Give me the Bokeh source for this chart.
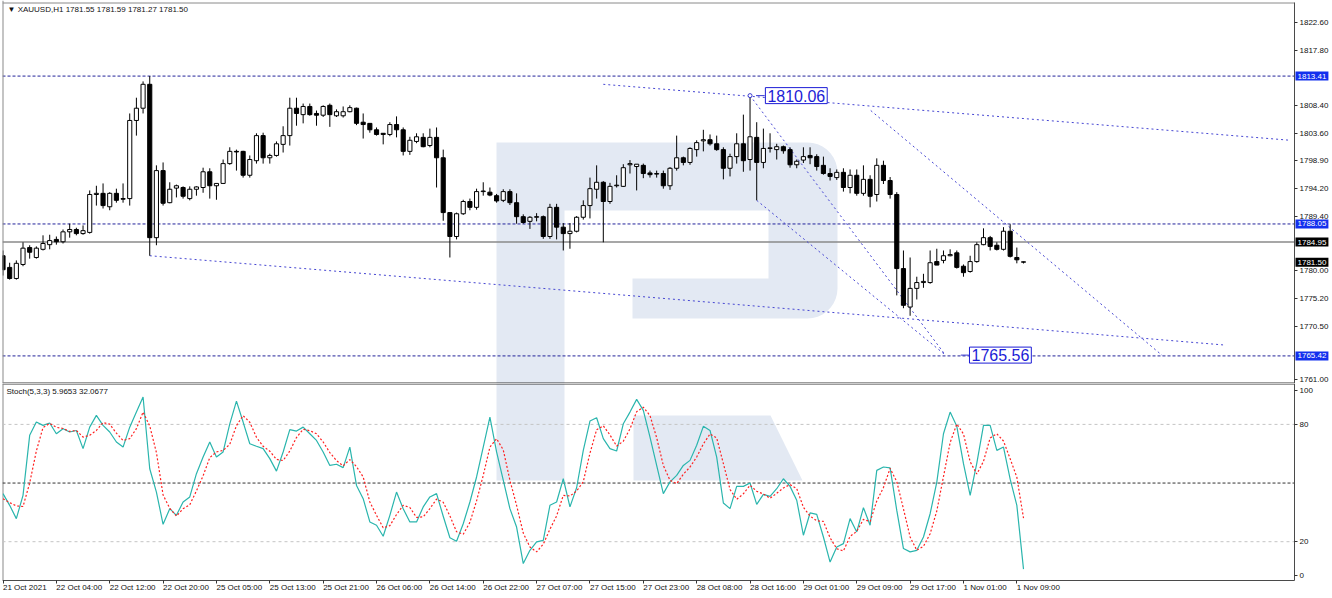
import numpy as np
from bokeh.plotting import figure
from bokeh.models import ColumnDataSource, Range1d, Span, Label, FixedTicker
from bokeh.layouts import column
from bokeh.embed import file_html
from bokeh.resources import INLINE

# ---------------- data ----------------
opens = [1782.6, 1780.6, 1778.7, 1781.1, 1784.0, 1782.3, 1783.7, 1784.5, 1785.4, 1785.0,
         1786.7, 1787.1, 1786.4, 1786.6, 1793.1, 1793.3, 1791.0, 1793.3, 1792.4, 1792.4,
         1805.8, 1807.9, 1812.0, 1785.7, 1797.2, 1791.7, 1794.2, 1794.3, 1792.4, 1794.0,
         1794.3, 1797.0, 1794.6, 1795.0, 1798.4, 1800.5, 1800.5, 1796.4, 1798.9, 1803.2,
         1799.4, 1799.8, 1801.7, 1803.2, 1807.9, 1806.8, 1808.2, 1807.0, 1806.7, 1808.4,
         1806.6, 1806.6, 1807.3, 1807.9, 1805.5, 1805.3, 1804.2, 1803.6, 1803.4, 1805.1,
         1804.2, 1800.5, 1802.2, 1802.9, 1801.5, 1802.9, 1799.4, 1790.0, 1785.9, 1789.8,
         1791.9, 1790.9, 1793.6, 1793.5, 1792.9, 1792.1, 1793.6, 1791.7, 1789.3, 1788.5,
         1789.2, 1789.3, 1785.9, 1790.9, 1787.5, 1786.4, 1786.8, 1789.2, 1791.2, 1794.0,
         1795.2, 1791.9, 1794.6, 1794.5, 1798.2, 1797.9, 1798.1, 1796.8, 1796.6, 1796.7,
         1794.6, 1797.6, 1799.4, 1798.6, 1800.8, 1802.3, 1802.5, 1801.8, 1800.8, 1797.6,
         1799.6, 1801.8, 1799.1, 1802.9, 1798.6, 1801.0, 1800.8, 1801.3, 1800.8, 1798.2,
         1799.0, 1799.8, 1799.6, 1798.1, 1796.7, 1796.0, 1796.9, 1794.3, 1796.4, 1793.3,
         1795.7, 1793.1, 1798.1, 1795.5, 1793.1, 1780.4, 1773.8, 1777.0, 1778.0, 1778.0,
         1781.6, 1781.8, 1782.6, 1783.1, 1780.8, 1779.9, 1781.6, 1784.5, 1785.7, 1784.4,
         1783.7, 1786.8, 1782.3, 1781.55]
highs = [1783.5, 1781.4, 1781.8, 1784.9, 1784.4, 1784.2, 1786.1, 1786.2, 1785.9, 1787.1,
         1788.1, 1787.4, 1787.8, 1793.8, 1794.6, 1795.0, 1793.5, 1794.1, 1795.0, 1807.0,
         1809.7, 1812.5, 1813.41, 1798.1, 1798.6, 1795.2, 1794.8, 1794.5, 1794.5, 1794.5,
         1797.7, 1797.6, 1795.0, 1799.1, 1801.2, 1800.8, 1800.6, 1799.8, 1803.6, 1803.7,
         1800.1, 1802.2, 1804.8, 1809.7, 1809.7, 1808.7, 1808.7, 1807.5, 1808.4, 1808.7,
         1807.7, 1808.2, 1808.4, 1808.0, 1807.0, 1805.3, 1804.6, 1803.6, 1805.5, 1806.5,
         1804.6, 1803.0, 1803.6, 1803.6, 1804.4, 1804.6, 1800.8, 1790.0, 1790.0, 1792.2,
         1792.4, 1794.1, 1795.2, 1794.3, 1793.2, 1794.0, 1794.0, 1793.3, 1789.7, 1789.4,
         1789.9, 1789.5, 1791.5, 1791.5, 1788.2, 1788.2, 1789.4, 1792.1, 1796.0, 1798.1,
         1795.4, 1795.1, 1796.4, 1798.3, 1799.0, 1798.3, 1798.4, 1797.2, 1797.2, 1797.2,
         1797.8, 1803.2, 1799.6, 1801.2, 1802.4, 1804.2, 1803.4, 1803.2, 1801.2, 1800.1,
         1803.6, 1806.8, 1810.06, 1805.5, 1804.4, 1803.6, 1801.8, 1801.5, 1801.2, 1799.1,
         1801.2, 1801.2, 1800.0, 1799.6, 1797.6, 1797.4, 1797.6, 1797.4, 1797.4, 1798.1,
         1796.4, 1799.3, 1798.9, 1796.1, 1793.5, 1783.5, 1782.3, 1779.0, 1779.5, 1783.5,
         1783.8, 1783.5, 1783.7, 1783.5, 1781.1, 1782.6, 1784.9, 1787.3, 1786.0, 1784.9,
         1787.5, 1788.0, 1784.0, 1781.59]
lows = [1779.2, 1778.5, 1778.5, 1780.8, 1782.1, 1782.1, 1783.5, 1783.7, 1784.5, 1784.7,
        1785.7, 1786.1, 1786.2, 1786.4, 1791.2, 1790.7, 1790.4, 1791.7, 1791.7, 1791.2,
        1803.2, 1807.0, 1782.6, 1784.4, 1791.2, 1791.6, 1792.6, 1792.4, 1792.1, 1792.9,
        1793.4, 1792.4, 1792.2, 1794.9, 1798.2, 1797.2, 1796.0, 1796.0, 1798.4, 1798.4,
        1798.4, 1799.6, 1800.3, 1801.5, 1804.9, 1805.3, 1806.6, 1804.9, 1806.4, 1804.7,
        1806.4, 1806.3, 1807.2, 1805.0, 1802.7, 1803.7, 1803.2, 1801.7, 1803.1, 1802.9,
        1799.8, 1799.9, 1801.9, 1801.2, 1801.2, 1794.3, 1788.6, 1782.3, 1785.4, 1789.6,
        1790.4, 1790.5, 1792.9, 1792.8, 1791.7, 1791.8, 1791.3, 1788.1, 1788.1, 1787.2,
        1788.5, 1785.5, 1785.5, 1785.4, 1783.5, 1783.8, 1786.6, 1788.8, 1789.0, 1792.4,
        1784.9, 1791.5, 1794.3, 1794.4, 1796.7, 1793.8, 1795.9, 1796.0, 1796.0, 1794.1,
        1793.9, 1797.2, 1798.1, 1798.2, 1799.6, 1800.5, 1801.5, 1800.6, 1795.7, 1796.2,
        1798.4, 1797.0, 1797.2, 1792.1, 1797.6, 1800.3, 1799.1, 1800.1, 1797.7, 1797.6,
        1798.5, 1798.3, 1797.2, 1796.5, 1795.5, 1795.6, 1793.6, 1793.3, 1792.9, 1792.9,
        1790.9, 1791.9, 1794.9, 1792.4, 1775.8, 1773.6, 1772.3, 1775.1, 1777.1, 1777.8,
        1781.0, 1781.3, 1782.5, 1780.4, 1779.0, 1779.7, 1781.4, 1784.4, 1783.5, 1783.5,
        1783.5, 1782.3, 1781.3, 1781.27]
closes = [1780.2, 1778.7, 1781.3, 1783.9, 1783.2, 1783.9, 1784.7, 1785.2, 1785.0, 1786.7,
          1787.1, 1786.4, 1786.9, 1793.1, 1793.3, 1791.2, 1793.3, 1792.1, 1792.3, 1805.8,
          1807.9, 1812.0, 1785.7, 1797.2, 1791.6, 1794.0, 1794.6, 1792.8, 1794.0, 1794.4,
          1797.0, 1794.6, 1795.0, 1798.4, 1800.5, 1800.4, 1796.4, 1799.1, 1803.2, 1799.4,
          1799.8, 1801.8, 1803.2, 1807.9, 1807.0, 1808.2, 1806.8, 1806.7, 1808.2, 1806.8,
          1807.3, 1807.3, 1808.0, 1805.3, 1805.1, 1804.2, 1803.4, 1803.4, 1805.1, 1804.2,
          1800.5, 1802.4, 1803.0, 1801.3, 1802.9, 1799.4, 1790.0, 1785.9, 1789.8, 1791.9,
          1790.9, 1793.6, 1793.7, 1793.0, 1792.0, 1793.6, 1791.7, 1789.3, 1788.3, 1789.2,
          1789.3, 1785.9, 1790.9, 1787.5, 1786.4, 1786.8, 1789.2, 1791.2, 1794.1, 1795.2,
          1791.9, 1794.5, 1794.7, 1797.7, 1798.4, 1798.3, 1796.7, 1796.5, 1796.7, 1794.6,
          1797.6, 1799.4, 1798.6, 1801.0, 1802.0, 1802.5, 1801.8, 1800.8, 1797.6, 1799.6,
          1801.8, 1798.9, 1803.0, 1798.6, 1801.0, 1801.1, 1801.3, 1800.6, 1798.2, 1798.8,
          1799.6, 1799.4, 1797.9, 1796.7, 1796.2, 1796.9, 1794.3, 1796.4, 1793.3, 1795.7,
          1792.8, 1798.1, 1795.5, 1793.1, 1780.4, 1774.1, 1777.0, 1778.0, 1778.2, 1781.4,
          1781.0, 1782.6, 1782.8, 1780.6, 1779.7, 1781.6, 1784.5, 1785.7, 1784.2, 1783.7,
          1786.8, 1782.5, 1781.9, 1781.50]

stoch_k = [44.6, 38.6, 31.8, 43.7, 74.4, 81.2, 79.5, 80.7, 75.2, 77.8,
           76.1, 76.9, 67.6, 78.6, 84.6, 79.5, 76.1, 71.0, 68.4, 78.6,
           86.3, 94.0, 57.3, 45.4, 28.9, 36.9, 33.5, 40.3, 42.9, 54.8,
           63.3, 71.0, 63.3, 65.9, 80.3, 91.9, 81.2, 70.1, 68.8, 67.6,
           62.5, 56.1, 65.9, 77.3, 76.6, 78.6, 75.2, 71.8, 65.9, 59.0,
           59.6, 57.9, 68.4, 48.8, 42.0, 30.1, 28.4, 22.8, 33.5, 45.4,
           36.9, 30.1, 30.1, 37.8, 42.9, 44.6, 33.0, 22.0, 20.2, 29.2,
           40.3, 53.1, 68.4, 83.7, 65.9, 51.5, 36.9, 27.5, 8.8, 15.6,
           19.9, 20.7, 38.6, 40.3, 52.2, 37.8, 47.6, 66.7, 81.7, 83.4,
           72.7, 67.6, 66.4, 80.3, 86.3, 92.8, 87.2, 73.5, 59.0, 44.6,
           50.6, 53.9, 59.0, 61.6, 69.3, 79.0, 76.9, 63.3, 39.8, 36.9,
           48.3, 48.3, 50.0, 39.1, 44.2, 43.2, 47.1, 52.2, 48.3, 41.2,
           23.3, 34.7, 34.0, 22.4, 9.6, 17.3, 19.0, 31.8, 25.0, 37.4,
           28.4, 56.5, 58.2, 57.8, 36.0, 16.5, 14.8, 15.6, 22.4, 34.3,
           50.5, 75.2, 86.3, 79.0, 59.9, 43.7, 60.2, 79.5, 79.5, 66.7,
           68.4, 52.0, 38.6, 5.9653]
stoch_d = [42.0, 40.0, 38.3, 38.0, 50.0, 66.4, 78.4, 80.5, 78.5, 77.9,
           76.4, 76.9, 73.5, 74.4, 76.9, 80.9, 80.1, 75.5, 71.8, 72.7,
           77.8, 86.3, 79.2, 65.6, 43.9, 37.1, 33.1, 36.9, 38.9, 46.0,
           53.7, 63.0, 65.9, 66.7, 69.8, 79.4, 84.5, 81.1, 73.4, 68.8,
           66.3, 62.1, 61.5, 66.4, 73.3, 77.5, 76.8, 75.2, 71.0, 65.6,
           61.5, 58.8, 62.0, 58.4, 53.1, 40.3, 33.5, 27.1, 28.2, 33.9,
           38.6, 37.5, 32.4, 32.7, 36.9, 41.8, 40.2, 33.2, 25.1, 23.8,
           29.9, 40.9, 53.9, 68.4, 72.7, 67.0, 51.4, 38.6, 24.4, 17.3,
           14.8, 18.7, 26.4, 33.2, 43.7, 43.4, 45.9, 50.7, 65.3, 77.3,
           79.3, 74.6, 68.9, 71.4, 77.7, 86.5, 88.8, 84.5, 73.2, 59.0,
           51.4, 49.7, 54.5, 58.2, 63.3, 70.0, 75.1, 73.1, 60.0, 46.7,
           41.7, 44.5, 48.9, 45.8, 44.4, 42.2, 44.8, 47.5, 49.2, 47.2,
           37.6, 33.1, 30.7, 30.4, 22.0, 16.4, 15.3, 22.7, 25.3, 31.4,
           30.3, 40.8, 47.7, 57.5, 50.7, 36.8, 22.4, 15.6, 17.6, 24.1,
           35.7, 53.3, 70.7, 80.2, 75.1, 60.9, 54.6, 61.1, 73.1, 75.2,
           71.5, 62.4, 53.0, 32.0677]

time_tick_bars = [0, 8, 16, 24, 32, 40, 48, 56, 64, 72, 80, 88, 96, 104, 112, 120, 128, 136, 144, 152]
time_tick_labels = ["21 Oct 2021", "22 Oct 04:00", "22 Oct 12:00", "22 Oct 20:00", "25 Oct 05:00",
                    "25 Oct 13:00", "25 Oct 21:00", "26 Oct 06:00", "26 Oct 14:00", "26 Oct 22:00",
                    "27 Oct 07:00", "27 Oct 15:00", "27 Oct 23:00", "28 Oct 08:00", "28 Oct 16:00",
                    "29 Oct 01:00", "29 Oct 09:00", "29 Oct 17:00", "1 Nov 01:00", "1 Nov 09:00"]
price_ticks = [1822.60, 1817.80, 1808.40, 1803.60, 1798.90, 1794.20, 1789.40, 1780.00, 1775.20, 1770.50, 1761.00]
stoch_tick_pos = [97.3, 80, 20, 2.7]
stoch_tick_labels = ["100", "80", "20", "0"]
stoch_levels = [80, 50, 20]

h_levels_blue = [1813.41, 1788.05, 1765.42]
h_level_solid = 1784.95
bid_price = 1781.50
marked_high = (112, 1810.06)
marked_target = (141.3, 1765.56)
# trend lines drawn on the chart: (bar0, price0, bar1, price1)
trend_lines = [(90.0, 1812.0, 193.0, 1802.4),
               (22.0, 1782.6, 183.0, 1767.3),
               (112.0, 1810.06, 141.3, 1765.56),
               (113.0, 1792.1, 141.3, 1765.56),
               (130.1, 1807.5, 173.8, 1765.5)]
header_text = "XAUUSD,H1  1781.55 1781.59 1781.27 1781.50"
stoch_header = "Stoch(5,3,3) 5.9653 32.0677"

# ---------------- layout helpers (reference pixel -> data) ----------------
def px2bar(x): return (x - 2.5) / 6.67
def py2price(y): return 1822.6 - (y - 22) * 0.1715
def py2stoch(y): return (580.3 - y) / 1.955

FONT = "Liberation Sans"
W = 1332
AXIS_X = px2bar(1294)          # position of the price / stoch value axis
xr = Range1d(px2bar(2), px2bar(1332))

n = len(opens)
idx = list(range(n))
up = [c >= o for o, c in zip(opens, closes)]
src = ColumnDataSource(dict(
    x=idx, h=highs, l=lows,
    top=[max(o, c) for o, c in zip(opens, closes)],
    bottom=[min(o, c) for o, c in zip(opens, closes)],
    fill=["white" if u else "black" for u in up]))

p = figure(width=W, height=383, x_range=xr, y_range=Range1d(py2price(383), py2price(0)),
           output_backend="svg", toolbar_location=None, x_axis_location=None,
           y_axis_location="right", min_border_left=2, min_border_right=0,
           min_border_top=0, min_border_bottom=0)
s = figure(width=W, height=215, x_range=xr, y_range=Range1d(py2stoch(598), py2stoch(383)),
           output_backend="svg", toolbar_location=None, y_axis_location="right",
           min_border_left=2, min_border_right=0, min_border_top=0, min_border_bottom=0)

for f in (p, s):
    f.grid.visible = False
    f.outline_line_color = None
    f.background_fill_color = "white"
    f.border_fill_color = "white"
    for ax in f.axis:
        ax.axis_line_color = "#4a4a4a"
        ax.major_tick_in = 0
        ax.major_tick_out = 3
        ax.minor_tick_line_color = None
        ax.major_tick_line_color = "#333333"
        ax.major_label_text_font = FONT
        ax.major_label_text_font_size = "8px"
        ax.major_label_text_color = "#111111"

# --- watermark logo (decoration) ---
LOGO = "#e3e9f3"
def arc(cx, cy, r, a0, a1, k=10):
    t = np.radians(np.linspace(a0, a1, k))
    return list(cx + r * np.cos(t)), list(cy - r * np.sin(t))

ax1, ay1 = arc(807, 172, 30, 90, 0)
ax2, ay2 = arc(807, 288, 30, 0, -90)
lx = [496] + ax1 + ax2 + [632, 632, 768, 768, 564, 564, 496]
ly = [142] + ay1 + ay2 + [318, 278, 278, 210, 210, 384, 384]
p.patch([px2bar(v) for v in lx], [py2price(v) for v in ly], fill_color=LOGO, line_color=None, level="underlay")
s.patch([px2bar(v) for v in [496, 564, 564, 496]], [py2stoch(v) for v in [383, 383, 480, 480]],
        fill_color=LOGO, line_color=None, level="underlay")
s.patch([px2bar(v) for v in [633, 770, 802, 633]], [py2stoch(v) for v in [415, 415, 480, 480]],
        fill_color=LOGO, line_color=None, level="underlay")

# --- panel borders ---
x_left = px2bar(2)
p.add_layout(Span(location=x_left, dimension="height", line_color="#8a8a8a", line_width=2))
p.segment([x_left], [py2price(2.5)], [AXIS_X], [py2price(2.5)], line_color="#8a8a8a", line_width=1)
p.segment([x_left], [py2price(382.5)], [AXIS_X], [py2price(382.5)], line_color="#3a3a3a", line_width=1)
s.segment([x_left], [py2stoch(383.5)], [AXIS_X], [py2stoch(383.5)], line_color="#3a3a3a", line_width=1)
s.segment([x_left], [py2stoch(383)], [x_left], [py2stoch(580)], line_color="#8a8a8a", line_width=2)

# --- horizontal levels ---
for lv in h_levels_blue:
    p.segment([x_left], [lv], [AXIS_X], [lv], line_color="#22229a", line_dash="3 2", line_width=1)
p.segment([x_left], [h_level_solid], [AXIS_X], [h_level_solid], line_color="#8a8a8a", line_width=1.5)

# --- trend lines ---
tl = ColumnDataSource(dict(x0=[t[0] for t in trend_lines], y0=[t[1] for t in trend_lines],
                           x1=[t[2] for t in trend_lines], y1=[t[3] for t in trend_lines]))
p.segment("x0", "y0", "x1", "y1", source=tl, line_color="#4646d2", line_dash="2 3", line_width=1)

# --- candles ---
p.segment("x", "h", "x", "l", source=src, line_color="black", line_width=1)
p.vbar(x="x", width=0.62, top="top", bottom="bottom", source=src,
       fill_color="fill", line_color="black", line_width=1)

# --- marked price labels ---
p.scatter([marked_high[0]], [marked_high[1]], size=4, marker="circle", fill_color="white",
          line_color="#3a3ad0")
p.segment([marked_high[0] + 0.9], [marked_high[1]], [marked_high[0] + 2.2], [marked_high[1]],
          line_color="#3a3ad0", line_width=1)
p.segment([marked_target[0] + 2.3], [marked_target[1]], [marked_target[0] + 3.5], [marked_target[1]],
          line_color="#3a3ad0", line_width=1)
for bx, val in [(marked_high[0] + 2.3, marked_high[1]), (marked_target[0] + 3.6, marked_target[1])]:
    p.add_layout(Label(x=bx, y=val, text=f"{val:.2f}", text_font=FONT, text_font_size="16px",
                       text_color="#1c1cd6", text_baseline="middle", text_align="left",
                       background_fill_color="white", border_line_color="#1c1cd6",
                       border_line_width=1, padding=2))

# --- price axis (right side of the chart area) ---
p.yaxis.fixed_location = AXIS_X
p.yaxis.bounds = (py2price(383), py2price(2))
p.yaxis.ticker = FixedTicker(ticks=[t if t > 1762 else 1761.35 for t in price_ticks])
p.yaxis.major_label_overrides = {(t if t > 1762 else 1761.35): f"{t:.2f}" for t in price_ticks}
p.yaxis.major_label_standoff = 2
for val, col in [(h_levels_blue[0], "#1330ee"), (h_levels_blue[1], "#1330ee"),
                 (h_levels_blue[2], "#1330ee"), (h_level_solid, "black"), (bid_price, "black")]:
    p.add_layout(Label(x=AXIS_X, y=val, x_offset=1, text=f"{val:.2f}", text_font=FONT,
                       text_font_size="8px", text_color="white", text_baseline="middle",
                       text_align="left", background_fill_color=col, padding=2))

p.add_layout(Label(x=px2bar(7), y=py2price(9), text="\u25BC " + header_text, text_font=FONT,
                   text_font_size="8px", text_color="#111111", text_baseline="middle"))

# ---------------- stochastic panel ----------------
for lv in stoch_levels:
    if lv == 50:
        s.segment([x_left], [lv], [AXIS_X], [lv], line_color="#333333", line_dash="3 2", line_width=1)
    else:
        s.segment([x_left], [lv], [AXIS_X], [lv], line_color="#c4c4c4", line_dash="3 3", line_width=1)
s.line(idx, stoch_k, line_color="#2ab5ad", line_width=1.2)
s.line(idx, stoch_d, line_color="#ff2020", line_dash="2 2", line_width=1.2)
s.add_layout(Label(x=px2bar(6), y=py2stoch(391), text=stoch_header, text_font=FONT, text_font_size="8px",
                   text_color="#111111", text_baseline="middle"))

s.yaxis.fixed_location = AXIS_X
s.yaxis.bounds = (py2stoch(580), py2stoch(383))
s.yaxis.ticker = FixedTicker(ticks=stoch_tick_pos)
s.yaxis.major_label_overrides = dict(zip(stoch_tick_pos, stoch_tick_labels))
s.yaxis.major_label_standoff = 2
s.xaxis.fixed_location = py2stoch(580)
s.xaxis.bounds = (x_left, AXIS_X)
s.xaxis.ticker = FixedTicker(ticks=time_tick_bars)
s.xaxis.major_label_overrides = dict(zip(time_tick_bars, time_tick_labels))
s.xaxis.major_label_orientation = -1e-6
s.xaxis.major_label_standoff = 4

layout = column(p, s, spacing=0)
open("out.html", "w").write(file_html(layout, INLINE))
